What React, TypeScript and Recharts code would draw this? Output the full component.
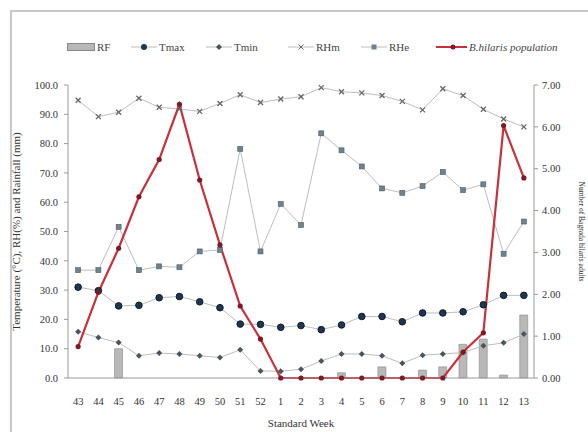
import { ComposedChart, Bar, Line, XAxis, YAxis } from 'recharts';

const weeks = ['43', '44', '45', '46', '47', '48', '49', '50', '51', '52', '1', '2', '3', '4', '5', '6', '7', '8', '9', '10', '11', '12', '13'];
const rf = [0, 0, 10, 0, 0, 0, 0, 0, 0, 0, 0, 0, 0, 1.8, 0, 3.8, 0, 2.7, 3.8, 11.5, 13.3, 1, 21.5];
const tmax = [31, 29.8, 24.6, 24.8, 27.4, 27.8, 26, 24, 18.4, 18.3, 17.3, 17.9, 16.5, 18.1, 21, 21, 19.2, 22.2, 22.2, 22.6, 25, 28.2, 28.2];
const tmin = [15.8, 13.8, 12.1, 7.6, 8.5, 8.2, 7.6, 7, 9.6, 2.4, 2.3, 3, 5.8, 8.2, 8.2, 7.6, 5, 7.8, 8.2, 8.7, 11, 12, 15];
const rhm = [94.8, 89.2, 90.7, 95.5, 92.4, 91.8, 91, 93.7, 96.7, 94, 95.2, 96, 99.1, 97.7, 97.3, 96.4, 94.4, 91.5, 98.7, 96.4, 91.7, 88.4, 85.7];
const rhe = [36.8, 36.8, 51.6, 36.8, 38.1, 37.8, 43.2, 43.7, 78.2, 43.2, 59.4, 52.2, 83.5, 77.7, 72.2, 64.7, 63.2, 65.5, 70.3, 64.1, 66.1, 42.4, 53.4];
const population = [0.75, 2.05, 3.1, 4.33, 5.22, 6.54, 4.73, 3.18, 1.72, 0.93, 0, 0, 0, 0, 0, 0, 0, 0, 0, 0.62, 1.08, 6.03, 4.78];

const leftTicks = [0, 10, 20, 30, 40, 50, 60, 70, 80, 90, 100];
const rightTicks = [0, 1, 2, 3, 4, 5, 6, 7];

const data = weeks.map((w, i) => ({
  week: w,
  rf: rf[i],
  tmax: tmax[i],
  tmin: tmin[i],
  rhm: rhm[i],
  rhe: rhe[i],
  pop: population[i],
}));

const FONT = '"Liberation Serif", "DejaVu Serif", serif';
const LINE = '#bdbdbd';
const AXIS = '#9a9a9a';
const tickStyle = { fontSize: 10.5, fill: '#333', fontFamily: FONT };

const TmaxDot = (p: any) => <circle key={p.index} cx={p.cx} cy={p.cy} r={3.3} fill="#1f3550" stroke="#0e1c2c" />;
const TminDot = (p: any) => (
  <path key={p.index} d={`M${p.cx},${p.cy - 3}L${p.cx + 3},${p.cy}L${p.cx},${p.cy + 3}L${p.cx - 3},${p.cy}Z`} fill="#4a5560" />
);
const RhmDot = (p: any) => (
  <path key={p.index} d={`M${p.cx - 2.5},${p.cy - 2.5}L${p.cx + 2.5},${p.cy + 2.5}M${p.cx + 2.5},${p.cy - 2.5}L${p.cx - 2.5},${p.cy + 2.5}`} stroke="#666" strokeWidth={1.3} />
);
const RheDot = (p: any) => <rect key={p.index} x={p.cx - 2.5} y={p.cy - 2.5} width={5} height={5} fill="#6e8290" stroke="#4e5e6a" strokeWidth={0.6} />;
const PopDot = (p: any) => <circle key={p.index} cx={p.cx} cy={p.cy} r={2.6} fill="#7d1a26" />;

function LegendItem({ x, w, icon, label }: { x: number; w: number; icon: any; label: any }) {
  return (
    <div style={{ position: 'absolute', left: x, top: 41, display: 'flex', alignItems: 'center', whiteSpace: 'nowrap' }}>
      <svg width={w} height={10}>{icon}</svg>
      <span style={{ fontSize: 11, color: '#444', fontFamily: FONT, marginLeft: 2, lineHeight: '12px' }}>{label}</span>
    </div>
  );
}

function LegendBox() {
  const lineIcon = (w: number, marker: any, color = LINE, sw = 1) => (
    <g>
      <line x1={0} y1={5} x2={w} y2={5} stroke={color} strokeWidth={sw} />
      {marker}
    </g>
  );
  return (
    <>
      <LegendItem x={67} w={28} icon={<rect x={0.5} y={1.5} width={27} height={7} fill="#b8b8b8" stroke="#888" />} label="RF" />
      <LegendItem x={131} w={26} icon={lineIcon(26, <circle cx={13} cy={5} r={3} fill="#1f3550" />)} label="Tmax" />
      <LegendItem x={206} w={26} icon={lineIcon(26, <path d="M13,2L16,5L13,8L10,5Z" fill="#4a5560" />)} label="Tmin" />
      <LegendItem x={288} w={26} icon={lineIcon(26, <path d="M10.5,2.5L15.5,7.5M15.5,2.5L10.5,7.5" stroke="#666" />)} label="RHm" />
      <LegendItem x={361} w={26} icon={lineIcon(26, <rect x={10.5} y={2.5} width={5} height={5} fill="#6e8290" />)} label="RHe" />
      <LegendItem x={436} w={31} icon={lineIcon(31, <circle cx={17} cy={5} r={2.5} fill="#7d1a26" />, '#c8303a', 2)} label={<i>B.hilaris population</i>} />
    </>
  );
}

export default function App() {
  return (
    <div style={{ position: 'absolute', left: 0, top: 0, width: 588, height: 432, background: '#fff', overflow: 'hidden' }}>
      <div style={{ position: 'absolute', left: 10, top: 10, width: 600, height: 450, borderLeft: '2px solid #c8c8c8', borderTop: '2px solid #c8c8c8' }} />
      <LegendBox />
      <ComposedChart width={588} height={432} data={data} margin={{ top: 85, right: 10, bottom: 24, left: 10 }}>
        <XAxis
          dataKey="week"
          tick={tickStyle}
          tickLine={false}
          tickMargin={14}
          axisLine={{ stroke: AXIS }}
          height={30}
          interval={0}
          label={{ value: 'Standard Week', position: 'insideBottom', offset: -19, style: { fontSize: 11, fill: '#333', fontFamily: FONT } }}
        />
        <YAxis
          yAxisId="left"
          domain={[0, 100]}
          ticks={leftTicks}
          tickFormatter={(v: number) => v.toFixed(1)}
          tick={tickStyle}
          tickSize={4}
          tickMargin={6}
          tickLine={{ stroke: AXIS }}
          axisLine={{ stroke: AXIS }}
          width={58}
          label={{ value: 'Temperature (°C), RH(%) and Rainfall (mm)', angle: -90, position: 'insideLeft', offset: 6, style: { fontSize: 11, fill: '#333', fontFamily: FONT, textAnchor: 'middle' } }}
        />
        <YAxis
          yAxisId="right"
          orientation="right"
          domain={[0, 7]}
          ticks={rightTicks}
          tickFormatter={(v: number) => v.toFixed(2)}
          tick={tickStyle}
          tickSize={4}
          tickMargin={4}
          tickLine={{ stroke: AXIS }}
          axisLine={{ stroke: AXIS }}
          width={44}
          label={{ value: 'Number of Bagrada hilaris adults', angle: 90, position: 'insideRight', offset: -4, style: { fontSize: 7.5, fill: '#333', fontFamily: FONT, textAnchor: 'middle' } }}
        />
        <Bar yAxisId="left" dataKey="rf" fill="#b8b8b8" stroke="#8a8a8a" strokeWidth={0.6} barSize={8} isAnimationActive={false} />
        <Line yAxisId="left" dataKey="rhm" stroke={LINE} strokeWidth={1} dot={RhmDot} isAnimationActive={false} />
        <Line yAxisId="left" dataKey="rhe" stroke={LINE} strokeWidth={1} dot={RheDot} isAnimationActive={false} />
        <Line yAxisId="left" dataKey="tmax" stroke={LINE} strokeWidth={1} dot={TmaxDot} isAnimationActive={false} />
        <Line yAxisId="left" dataKey="tmin" stroke={LINE} strokeWidth={1} dot={TminDot} isAnimationActive={false} />
        <Line yAxisId="right" dataKey="pop" stroke="#c8303a" strokeWidth={2.2} dot={PopDot} isAnimationActive={false} />
      </ComposedChart>
    </div>
  );
}
